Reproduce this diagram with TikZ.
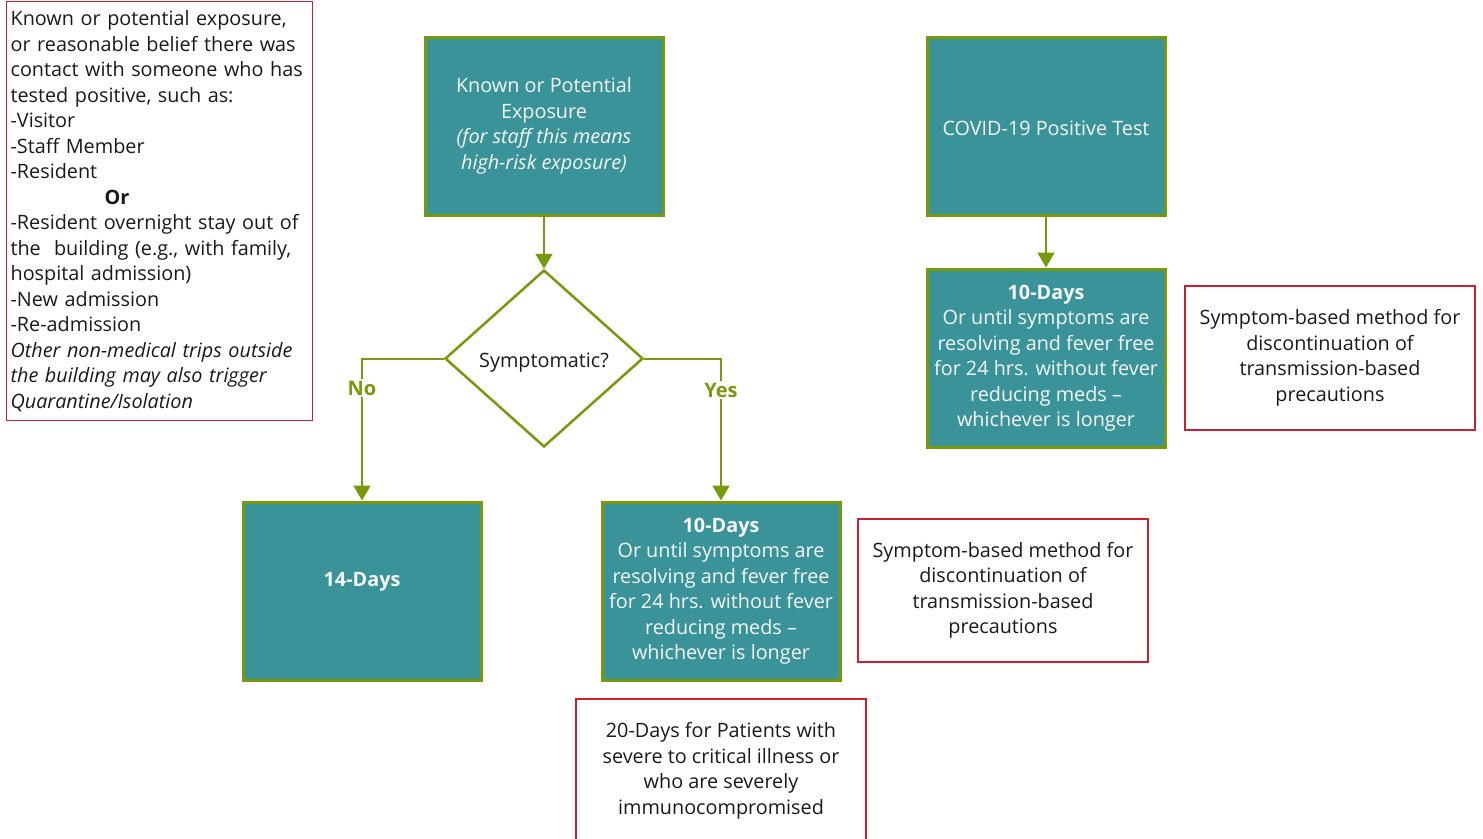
\documentclass[tikz,border=0pt]{standalone}
\usepackage{fontspec}
\setmainfont{Open Sans}
\usetikzlibrary{shapes.geometric,arrows.meta}
\definecolor{tealfill}{HTML}{3A9399}
\definecolor{grn}{HTML}{779A0C}
\definecolor{redb}{HTML}{CC2030}
\definecolor{txtw}{HTML}{F4F8F8}
\definecolor{txtk}{HTML}{1A1A1A}
\begin{document}
\begin{tikzpicture}[x=1pt,y=-1pt,
  every node/.style={font=\fontsize{19.8}{25.5}\selectfont},
  tbox/.style={rectangle, fill=tealfill, draw=grn, line width=3pt, minimum width=238pt, minimum height=178pt, text=txtw, align=center, inner sep=1pt},
  note/.style={rectangle, draw=redb, line width=1.2pt, text=txtk, align=center, inner sep=1pt},
  dia/.style={diamond, draw=grn, line width=2.5pt, fill=white, minimum width=198pt, minimum height=177pt, aspect=1.12, inner sep=0pt, text=txtk},
  conn/.style={draw=grn, line width=2pt, -{Triangle[width=17pt,length=15pt]}},
  lbl/.style={fill=white, text=grn, inner sep=2pt, font=\fontsize{20}{22}\selectfont\bfseries}
]
\clip (0,0) rectangle (1483,838);
\fill[white] (0,0) rectangle (1483,838);

\node[note, anchor=north west, text width=298pt, align=left, minimum width=304pt, minimum height=419pt, inner xsep=4pt, inner ysep=1pt] (ctx) at (6,1) {Known or potential exposure,\\or reasonable belief there was\\contact with someone who has\\tested positive, such as:\\-Visitor\\-Staff Member\\-Resident\\\hspace*{94pt}\textbf{Or}\\-Resident overnight stay out of\\the\ \ building (e.g., with family,\\hospital admission)\\-New admission\\-Re-admission\\\textit{Other non-medical trips outside}\\\textit{the building may also trigger}\\\textit{Quarantine/Isolation}};

\node[tbox] (exp) at (544,126) {Known or Potential\\Exposure\\\textit{(for staff this means}\\\textit{high-risk exposure)}};
\node[dia] (sym) at (544,358.5) {\raisebox{-4pt}[\height][\depth]{Symptomatic?}};
\node[tbox] (d14) at (362,591) {\raisebox{5pt}[0pt][0pt]{\textbf{14-Days}}};
\node[tbox] (d10a) at (721,591) {\textbf{10-Days}\\Or until symptoms are\\resolving and fever free\\for 24 hrs. without fever\\reducing meds --\\whichever is longer};
\node[tbox] (pos) at (1046,126) {\raisebox{-2pt}[\height][\depth]{COVID-19 Positive Test}};
\node[tbox] (d10b) at (1046,358) {\textbf{10-Days}\\Or until symptoms are\\resolving and fever free\\for 24 hrs. without fever\\reducing meds --\\whichever is longer};

\node[note, minimum width=290pt, minimum height=143pt] (sb1) at (1003,590.5) {Symptom-based method for\\discontinuation of\\transmission-based\\precautions};
\node[note, minimum width=290pt, minimum height=144pt] (sb2) at (1330,358) {Symptom-based method for\\discontinuation of\\transmission-based\\precautions};
\node[note, minimum width=290pt, minimum height=144pt] (sev) at (721,771) {20-Days for Patients with\\severe to critical illness or\\who are severely\\immunocompromised};

\draw[conn] (exp.south) -- (sym.north);
\draw[conn] (sym.west) -| (d14.north);
\draw[conn] (sym.east) -| (d10a.north);
\draw[conn] (pos.south) -- (d10b.north);
\node[lbl] (no) at (362,388) {No};
\node[lbl] (yes) at (721,390) {Yes};
\end{tikzpicture}
\end{document}
